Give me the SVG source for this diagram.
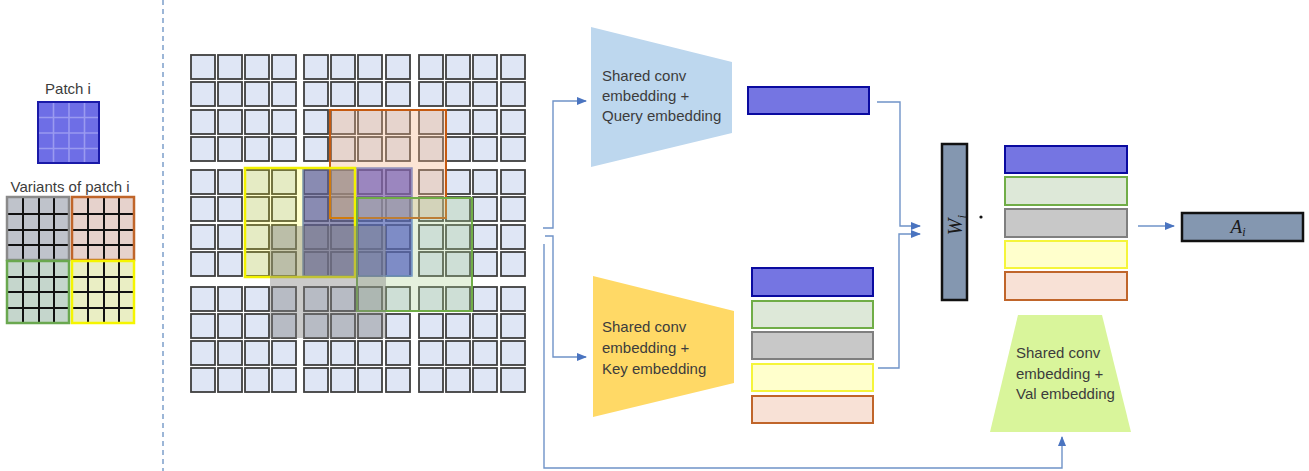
<svg xmlns="http://www.w3.org/2000/svg" xmlns:xlink="http://www.w3.org/1999/xlink" width="1309" height="471" viewBox="0 0 1309 471">
<style>
.t{font-family:"Liberation Sans",Arial,sans-serif;font-size:15px;fill:#3c3c3c}
.m{font-family:"Liberation Serif","DejaVu Serif",serif;font-style:italic;fill:#1a1a1a}
.cell{fill:#dfe6f5;stroke:#3f3f3f;stroke-width:1.8}
.conn{fill:none;stroke:#6f93c8;stroke-width:1.4}
.vl{stroke:#111;stroke-width:2}
.bl{stroke:#9a9af0;stroke-width:1.6}
</style>
<defs>
<marker id="ah" markerWidth="10" markerHeight="10" refX="9" refY="5" orient="auto" markerUnits="userSpaceOnUse">
<path d="M0,1 L10,5 L0,9 Z" fill="#4a74c0"/>
</marker>
<g id="row">
<rect class="cell" x="191" y="0" width="24" height="24"/><rect class="cell" x="218" y="0" width="24" height="24"/><rect class="cell" x="245" y="0" width="24" height="24"/><rect class="cell" x="272" y="0" width="24" height="24"/>
<rect class="cell" x="304" y="0" width="24" height="24"/><rect class="cell" x="331" y="0" width="24" height="24"/><rect class="cell" x="358" y="0" width="24" height="24"/><rect class="cell" x="386" y="0" width="24" height="24"/>
<rect class="cell" x="419" y="0" width="24" height="24"/><rect class="cell" x="446" y="0" width="24" height="24"/><rect class="cell" x="473" y="0" width="24" height="24"/><rect class="cell" x="501" y="0" width="24" height="24"/>
</g>
</defs>
<rect width="1309" height="471" fill="#fff"/>

<!-- left panel -->
<g id="patch-i">
<text class="t" x="68" y="94" text-anchor="middle">Patch i</text>
<rect x="38" y="102" width="61" height="61" fill="#6e6ee6"/>
<line class="bl" x1="53.5" y1="103" x2="53.5" y2="162"/><line class="bl" x1="69" y1="103" x2="69" y2="162"/><line class="bl" x1="84.5" y1="103" x2="84.5" y2="162"/>
<line class="bl" x1="39" y1="117.5" x2="98" y2="117.5"/><line class="bl" x1="39" y1="133" x2="98" y2="133"/><line class="bl" x1="39" y1="148.5" x2="98" y2="148.5"/>
<rect x="38" y="102" width="61" height="61" fill="none" stroke="#1a1aa8" stroke-width="2"/>
</g>
<g id="variants">
<text class="t" x="70" y="192" text-anchor="middle">Variants of patch i</text>
<rect x="7" y="197" width="62" height="63" fill="#bfc3cb"/>
<path class="vl" d="M23,198V259M39,198V259M54,198V259M8,214H68M8,230H68M8,245H68"/>
<rect x="7" y="197" width="62" height="63" fill="none" stroke="#8a8a8a" stroke-width="2.5"/>
<rect x="72" y="197" width="62" height="63" fill="#e6d2cc"/>
<path class="vl" d="M88,198V259M104,198V259M119,198V259M73,214H133M73,230H133M73,245H133"/>
<rect x="72" y="197" width="62" height="63" fill="none" stroke="#c0652a" stroke-width="2.5"/>
<rect x="7" y="261" width="62" height="62" fill="#c5d6cc"/>
<path class="vl" d="M23,262V322M39,262V322M54,262V322M8,277H68M8,292H68M8,308H68"/>
<rect x="7" y="261" width="62" height="62" fill="none" stroke="#6aa84f" stroke-width="2.5"/>
<rect x="72" y="261" width="62" height="62" fill="#eaeec4"/>
<path class="vl" d="M88,262V322M104,262V322M119,262V322M73,277H133M73,292H133M73,308H133"/>
<rect x="72" y="261" width="62" height="62" fill="none" stroke="#f5f500" stroke-width="2.5"/>
</g>
<line x1="163" y1="0" x2="163" y2="471" stroke="#5b86bd" stroke-width="1.2" stroke-dasharray="5,4"/>

<!-- image grid -->
<g id="grid">
<use xlink:href="#row" y="55"/><use xlink:href="#row" y="82"/><use xlink:href="#row" y="110"/><use xlink:href="#row" y="137"/>
<use xlink:href="#row" y="170"/><use xlink:href="#row" y="197"/><use xlink:href="#row" y="225"/><use xlink:href="#row" y="252"/>
<use xlink:href="#row" y="287"/><use xlink:href="#row" y="314"/><use xlink:href="#row" y="341"/><use xlink:href="#row" y="368"/>
</g>
<g id="overlays">
<rect x="303" y="168" width="109" height="108" fill="#2020d0" fill-opacity="0.6" stroke="#5b7fd8" stroke-width="1.5"/>
<rect x="330" y="110" width="116" height="108" fill="#f4b183" fill-opacity="0.35" stroke="#c55a11" stroke-width="2"/>
<rect x="245" y="168" width="110" height="109" fill="#ffff00" fill-opacity="0.2" stroke="#f2f200" stroke-width="2.5"/>
<rect x="357" y="198" width="115" height="113" fill="#a9d18e" fill-opacity="0.3" stroke="#70ad47" stroke-width="2"/>
<rect x="270" y="226" width="116" height="112" fill="#808080" fill-opacity="0.42"/>
</g>

<!-- query branch -->
<g id="query-embed">
<polygon points="591,27 732,62 732,133 591,167" fill="#bdd7ee"/>
<text class="t" x="602" y="81">Shared conv</text>
<text class="t" x="602" y="101">embedding +</text>
<text class="t" x="602" y="121">Query embedding</text>
</g>
<g id="query-vec">
<rect x="748" y="87" width="121" height="27" fill="#7575e2" stroke="#0a0aa0" stroke-width="2"/>
</g>

<!-- key branch -->
<g id="key-embed">
<polygon points="593,276 734,311 734,383 593,417" fill="#ffd966"/>
<text class="t" x="602" y="332">Shared conv</text>
<text class="t" x="602" y="353">embedding +</text>
<text class="t" x="602" y="374">Key embedding</text>
</g>
<g id="key-stack">
<rect x="752" y="268" width="121" height="28" fill="#7575e2" stroke="#0a0aa0" stroke-width="2"/>
<rect x="752" y="301" width="121" height="27" fill="#dde8d8" stroke="#70ad47" stroke-width="2"/>
<rect x="752" y="332" width="121" height="27" fill="#c8c8c8" stroke="#7f7f7f" stroke-width="2"/>
<rect x="752" y="364" width="121" height="27" fill="#ffffcc" stroke="#f5f53a" stroke-width="2"/>
<rect x="752" y="396" width="121" height="27" fill="#f8e1d6" stroke="#c0652a" stroke-width="2"/>
</g>

<!-- weights -->
<g id="w-i">
<rect x="942" y="144" width="25" height="156" fill="#8497b0" stroke="#111" stroke-width="2.5"/>
<text class="m" font-size="20" transform="translate(962,225) rotate(-90)" text-anchor="middle">W<tspan font-size="13" dy="4">i</tspan></text>
</g>
<circle cx="981" cy="217" r="1.6" fill="#111"/>

<!-- value stack -->
<g id="val-stack">
<rect x="1005" y="146" width="122" height="27" fill="#7575e2" stroke="#0a0aa0" stroke-width="2"/>
<rect x="1005" y="177" width="122" height="28" fill="#dde8d8" stroke="#70ad47" stroke-width="2"/>
<rect x="1005" y="209" width="122" height="28" fill="#c8c8c8" stroke="#7f7f7f" stroke-width="2"/>
<rect x="1005" y="241" width="122" height="27" fill="#ffffcc" stroke="#f5f53a" stroke-width="2"/>
<rect x="1005" y="272" width="122" height="28" fill="#f8e1d6" stroke="#c0652a" stroke-width="2"/>
</g>
<g id="val-embed">
<polygon points="1018,315 1102,315 1131,432 990,432" fill="#d9f59b"/>
<text class="t" x="1016" y="358">Shared conv</text>
<text class="t" x="1016" y="379">embedding +</text>
<text class="t" x="1016" y="399">Val embedding</text>
</g>

<g id="a-i">
<rect x="1182" y="213" width="121" height="28" fill="#8497b0" stroke="#111" stroke-width="2.5"/>
<text class="m" font-size="19" x="1238" y="233" text-anchor="middle">A<tspan font-size="12" dy="3">i</tspan></text>
</g>

<!-- connectors -->
<g id="connectors">
<path class="conn" d="M543,228 H553 V101 H586" marker-end="url(#ah)"/>
<path class="conn" d="M545,236 H553 V357 H586" marker-end="url(#ah)"/>
<path class="conn" d="M544,244 V468 H1062 V437" marker-end="url(#ah)"/>
<path class="conn" d="M877,102 H900 V226 H920" marker-end="url(#ah)"/>
<path class="conn" d="M878,368 H899 V234 H920" marker-end="url(#ah)"/>
<path class="conn" d="M1138,226 H1174" marker-end="url(#ah)"/>
</g>
</svg>
